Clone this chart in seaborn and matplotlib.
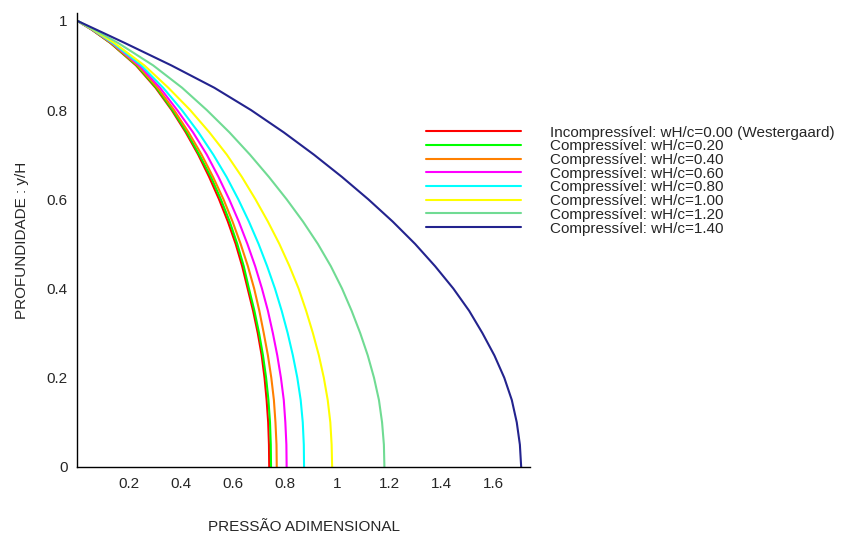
import matplotlib
matplotlib.use("Agg")
import matplotlib.pyplot as plt
import seaborn as sns
import pandas as pd
from matplotlib.ticker import MultipleLocator, FixedLocator

# profundidade relativa y/H
depth = [1.0, 0.98, 0.95, 0.9, 0.85, 0.8, 0.75, 0.7, 0.65, 0.6, 0.55,
         0.5, 0.45, 0.4, 0.35, 0.3, 0.25, 0.2, 0.15, 0.1, 0.05, 0.0]

# pressão adimensional para cada wH/c
p_000 = [0, 0.056, 0.128, 0.226, 0.301, 0.363, 0.417, 0.465, 0.507, 0.545, 0.579,
         0.609, 0.634, 0.655, 0.676, 0.694, 0.709, 0.720, 0.728, 0.734, 0.737, 0.738]
p_020 = [0, 0.057, 0.129, 0.229, 0.304, 0.366, 0.421, 0.469, 0.514, 0.552, 0.586,
         0.615, 0.640, 0.660, 0.681, 0.699, 0.714, 0.726, 0.735, 0.741, 0.744, 0.745]
p_040 = [0, 0.058, 0.131, 0.233, 0.309, 0.372, 0.428, 0.478, 0.522, 0.562, 0.597,
         0.628, 0.656, 0.680, 0.700, 0.717, 0.733, 0.746, 0.756, 0.762, 0.766, 0.767]
p_060 = [0, 0.059, 0.134, 0.239, 0.318, 0.384, 0.445, 0.498, 0.543, 0.584, 0.621,
         0.654, 0.684, 0.710, 0.733, 0.752, 0.769, 0.783, 0.794, 0.800, 0.804, 0.805]
p_080 = [0, 0.060, 0.137, 0.246, 0.330, 0.402, 0.466, 0.523, 0.574, 0.619, 0.660,
         0.697, 0.730, 0.760, 0.786, 0.809, 0.829, 0.846, 0.859, 0.867, 0.871, 0.872]
p_100 = [0, 0.062, 0.143, 0.258, 0.350, 0.434, 0.508, 0.575, 0.633, 0.685, 0.733,
         0.777, 0.816, 0.851, 0.880, 0.906, 0.929, 0.948, 0.963, 0.973, 0.978, 0.980]
p_120 = [0, 0.066, 0.158, 0.292, 0.403, 0.498, 0.585, 0.664, 0.737, 0.805, 0.868,
         0.925, 0.975, 1.018, 1.055, 1.088, 1.117, 1.141, 1.160, 1.172, 1.179, 1.181]
p_140 = [0, 0.074, 0.184, 0.362, 0.527, 0.668, 0.794, 0.910, 1.018, 1.119, 1.213,
         1.299, 1.376, 1.446, 1.507, 1.558, 1.604, 1.642, 1.671, 1.690, 1.702, 1.707]

labels = [
    "Incompressível: wH/c=0.00 (Westergaard)",
    "Compressível: wH/c=0.20",
    "Compressível: wH/c=0.40",
    "Compressível: wH/c=0.60",
    "Compressível: wH/c=0.80",
    "Compressível: wH/c=1.00",
    "Compressível: wH/c=1.20",
    "Compressível: wH/c=1.40",
]
series = [p_000, p_020, p_040, p_060, p_080, p_100, p_120, p_140]
colors = ["#ff0000", "#00ff00", "#ff8000", "#ff00ff",
          "#00ffff", "#ffff00", "#70db93", "#23238e"]

sns.set_style("white")
plt.rcParams["font.family"] = ["Liberation Sans", "DejaVu Sans"]

fig = plt.figure(figsize=(8.46, 5.37), dpi=100)
ax = fig.add_axes([0.0914, 0.1304, 0.5351, 0.8449])

for lab, vals, col in zip(labels, series, colors):
    df = pd.DataFrame({"p": vals, "y": depth})
    sns.lineplot(data=df, x="p", y="y", sort=False, estimator=None,
                 color=col, linewidth=1.5, label=lab, ax=ax)

ax.set_xlim(0, 1.741)
ax.set_ylim(0, 1.017)

ax.xaxis.set_major_locator(FixedLocator([0.2, 0.4, 0.6, 0.8, 1.0, 1.2, 1.4, 1.6]))
ax.xaxis.set_minor_locator(MultipleLocator(0.04))
ax.set_xticklabels(["0.2", "0.4", "0.6", "0.8", "1", "1.2", "1.4", "1.6"])
ax.yaxis.set_major_locator(FixedLocator([0, 0.2, 0.4, 0.6, 0.8, 1.0]))
ax.yaxis.set_minor_locator(MultipleLocator(0.04))
ax.set_yticklabels(["0", "0.2", "0.4", "0.6", "0.8", "1"])

for s in ["top", "right"]:
    ax.spines[s].set_visible(False)
for s in ["left", "bottom"]:
    ax.spines[s].set_color("black")
    ax.spines[s].set_linewidth(1.0)

ax.tick_params(which="major", direction="out", length=5, width=1,
               color="black", labelsize=11, pad=2)
ax.tick_params(which="minor", direction="out", length=3, width=1, color="black")

ax.set_xlabel("PRESSÃO ADIMENSIONAL", fontsize=11)
ax.set_ylabel("PROFUNDIDADE : y/H", fontsize=11)
ax.xaxis.set_label_coords(0.5, -0.117)
ax.yaxis.set_label_coords(-0.107, 0.5)

handles, labs = ax.get_legend_handles_labels()
ax.get_legend().remove()
fig.legend(handles, labs, loc="upper left", bbox_to_anchor=(0.5035, 0.766),
           frameon=False, fontsize=11, handlelength=6.2, handletextpad=1.9,
           labelspacing=-0.02, borderpad=0, borderaxespad=0)

fig.savefig("out.png", dpi=100)
